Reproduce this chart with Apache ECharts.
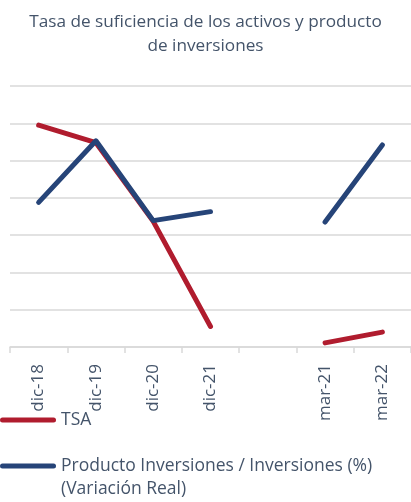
<!DOCTYPE html>
<html>
<head>
<meta charset="utf-8">
<script src="https://cdn.jsdelivr.net/npm/echarts@6/dist/echarts.min.js"></script>
<style>html,body{margin:0;padding:0;background:#fff}#c{width:411px;height:502px}</style>
</head>
<body>
<div id="c"></div>
<script>
var categories = ['dic-18', 'dic-19', 'dic-20', 'dic-21', '', 'mar-21', 'mar-22'];
var tsa = [5.95, 5.48, 3.37, 0.55, null, 0.11, 0.40];
var producto = [3.88, 5.53, 3.39, 3.63, null, 3.35, 5.42];
var titleText = 'Tasa de suficiencia de los activos y producto\nde inversiones';
var tsaName = 'TSA';
var prodName = 'Producto Inversiones / Inversiones (%)';
var prodSub = '(Variación Real)';

var textColor = '#44546A';
var redColor = '#B01C2E';
var blueColor = '#264478';
var gridColor = '#D9D9D9';
var font = 'Open Sans';
var lineIcon = 'path://M2.5,0 L53.5,0 A2.5,2.5 0 0 1 53.5,5 L2.5,5 A2.5,2.5 0 0 1 2.5,0 Z';

var chart = echarts.init(document.getElementById('c'), null, {renderer: 'canvas'});
chart.setOption({
  animation: false,
  textStyle: {fontFamily: font},
  title: {
    text: titleText,
    left: 'center',
    top: 5,
    textStyle: {fontFamily: font, fontSize: 17.2, fontWeight: 'normal', color: textColor, lineHeight: 24}
  },
  legend: [{
    data: [tsaName],
    orient: 'vertical',
    left: 0,
    top: 409,
    padding: 0,
    itemWidth: 56,
    itemHeight: 5,
    icon: lineIcon,
    textStyle: {fontFamily: font, fontSize: 17.5, color: textColor, lineHeight: 22}
  }, {
    data: [prodName],
    orient: 'vertical',
    left: 0,
    top: 455,
    padding: 0,
    itemWidth: 56,
    itemHeight: 5,
    icon: lineIcon,
    textStyle: {fontFamily: font, fontSize: 17.5, color: textColor, lineHeight: 22}
  }],
  graphic: [{
    type: 'text',
    left: 61,
    top: 480,
    style: {text: prodSub, fontFamily: font, fontSize: 17.5, fill: textColor}
  }],
  grid: {left: 10, right: 0, top: 86, bottom: 155, containLabel: false},
  xAxis: {
    type: 'category',
    data: categories,
    boundaryGap: true,
    axisLine: {lineStyle: {color: gridColor, width: 1.5}},
    axisTick: {show: true, length: 6, lineStyle: {color: gridColor, width: 1.5}},
    axisLabel: {rotate: 90, margin: 17, fontFamily: font, fontSize: 17, color: textColor}
  },
  yAxis: {
    type: 'value',
    min: 0,
    max: 7,
    interval: 1,
    axisLabel: {show: false},
    axisLine: {show: false},
    axisTick: {show: false},
    splitLine: {lineStyle: {color: gridColor, width: 1.5}}
  },
  series: [{
    name: tsaName,
    type: 'line',
    data: tsa,
    symbol: 'none',
    connectNulls: false,
    itemStyle: {color: redColor},
    lineStyle: {color: redColor, width: 5, cap: 'round', join: 'round'}
  }, {
    name: prodName,
    type: 'line',
    data: producto,
    symbol: 'none',
    connectNulls: false,
    itemStyle: {color: blueColor},
    lineStyle: {color: blueColor, width: 5, cap: 'round', join: 'round'}
  }]
});
</script>
</body>
</html>
